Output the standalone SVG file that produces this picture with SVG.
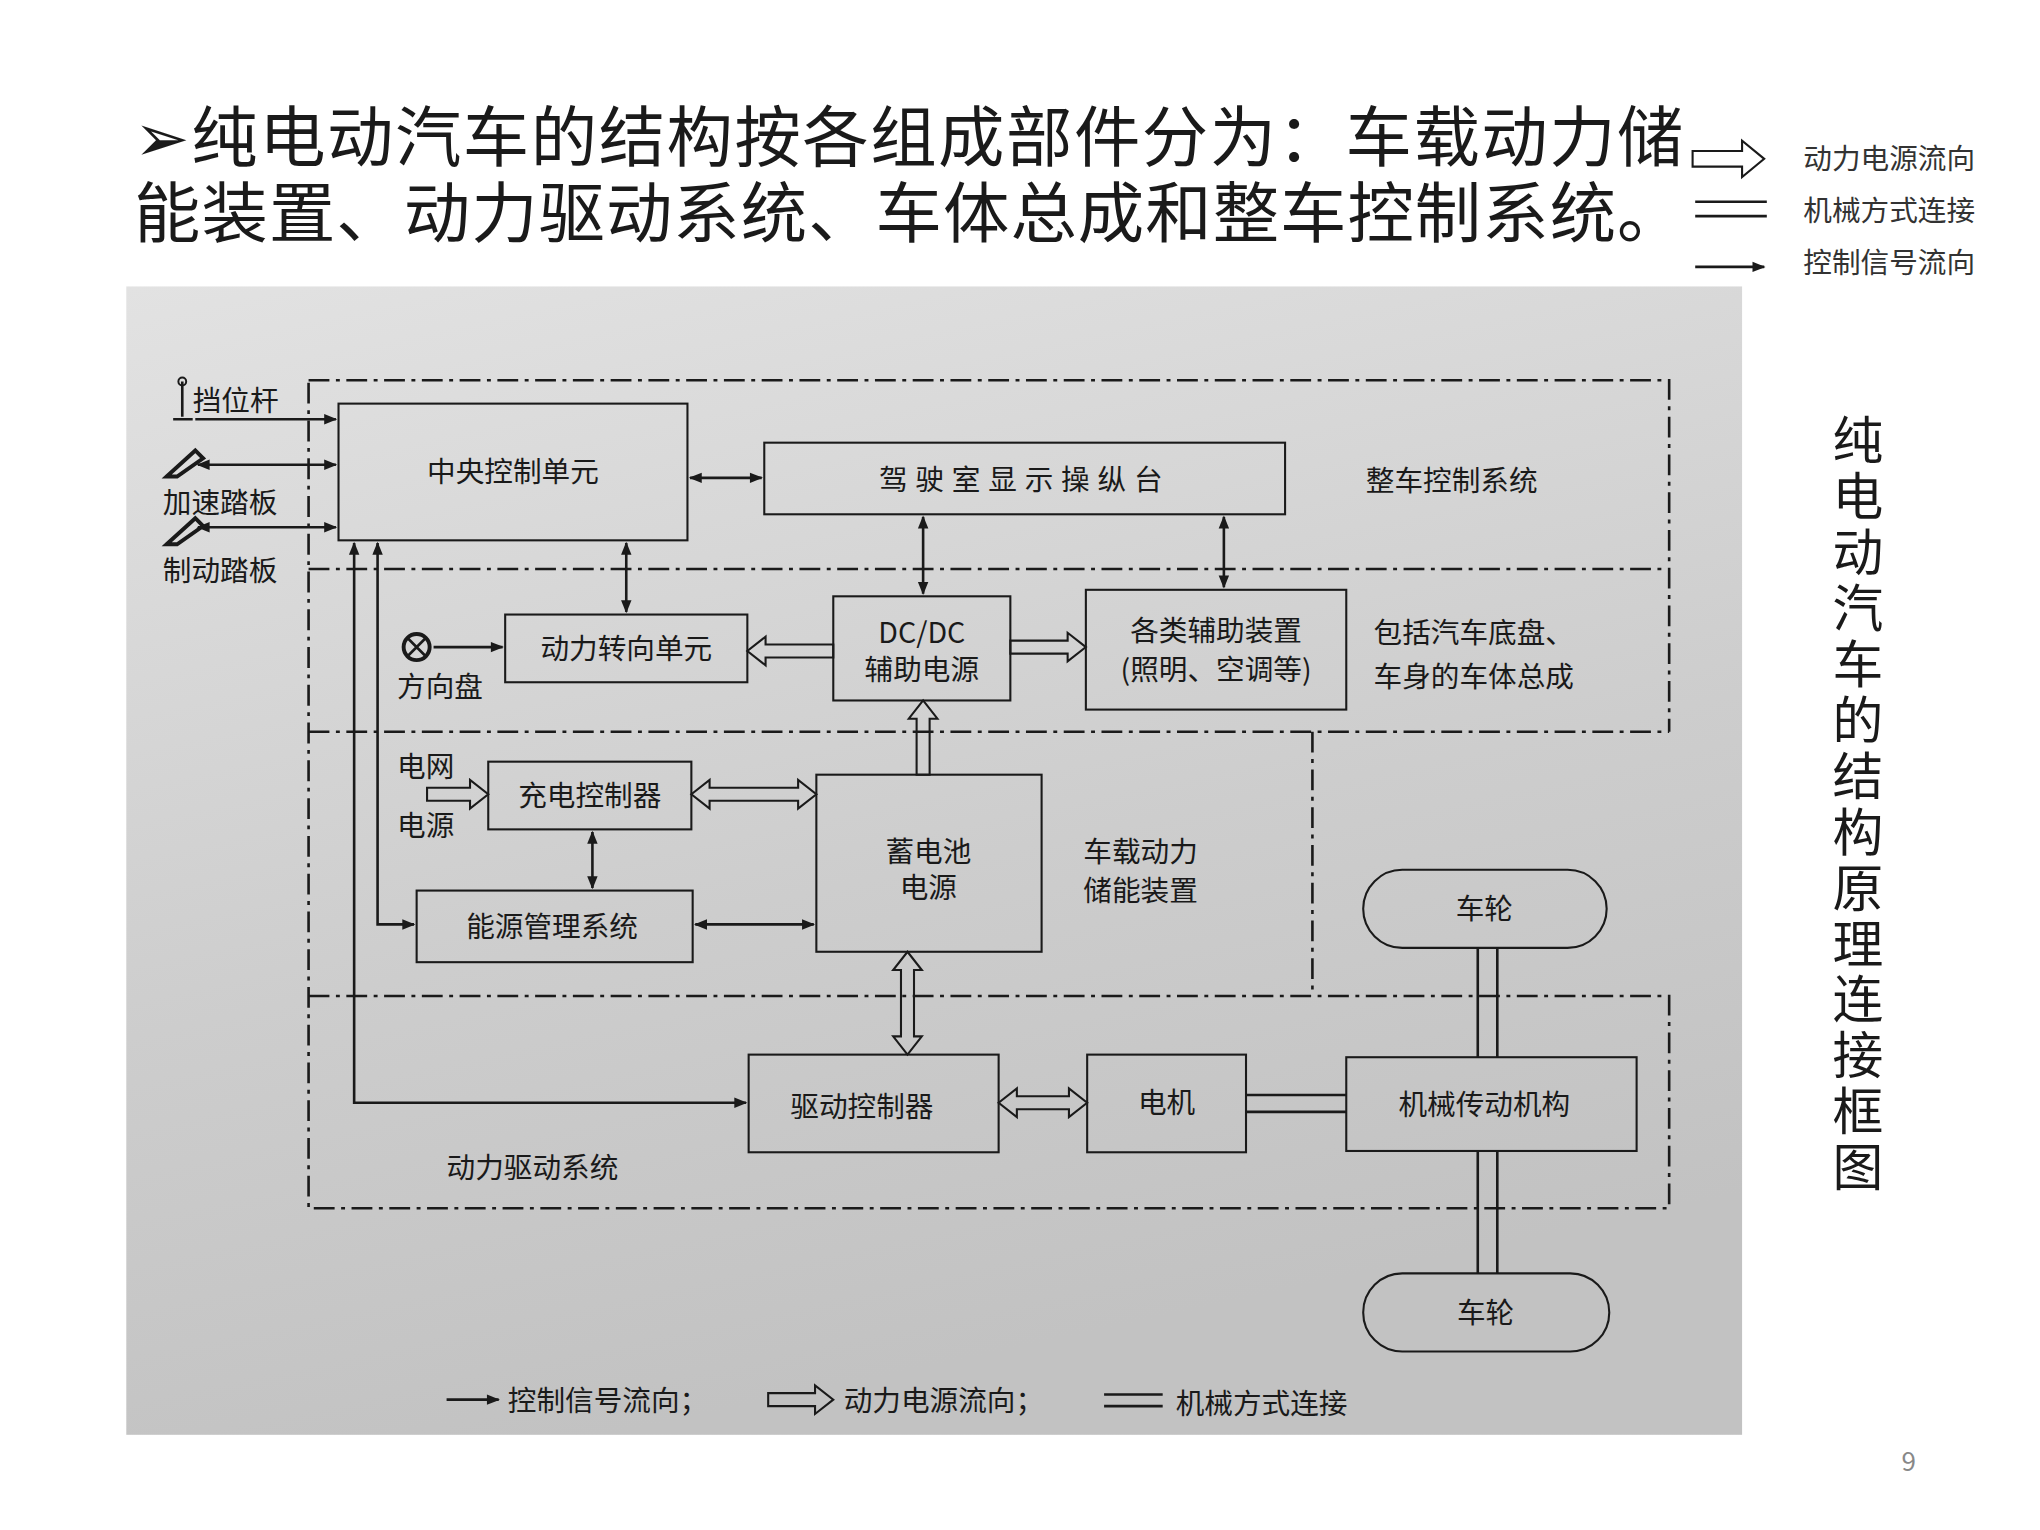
<svg xmlns="http://www.w3.org/2000/svg" width="2040" height="1530" viewBox="0 0 2040 1530">
<defs>
<linearGradient id="bg" x1="0" y1="0" x2="0.3" y2="1"><stop offset="0" stop-color="#e2e2e2"/><stop offset="0.6" stop-color="#cdcdcd"/><stop offset="1" stop-color="#c2c2c2"/></linearGradient>
<marker id="ah" viewBox="0 0 10 10" refX="9" refY="5" markerWidth="12" markerHeight="10" markerUnits="userSpaceOnUse" orient="auto-start-reverse"><path d="M0,1 L10,5 L0,9 Z" fill="#1a1a1a"/></marker>
</defs>
<style>
text{font-family:"Noto Sans CJK SC","DejaVu Sans",sans-serif;fill:#1a1a1a}
.t{font-size:22px}
.c{text-anchor:middle}
.box{fill:none;stroke:#1a1a1a;stroke-width:1.6}
.dd{fill:none;stroke:#1a1a1a;stroke-width:2;stroke-dasharray:16 5 3 5}
.ln{fill:none;stroke:#1a1a1a;stroke-width:2}
.ar{fill:none;stroke:#1a1a1a;stroke-width:2;marker-end:url(#ah)}
.ar2{fill:none;stroke:#1a1a1a;stroke-width:2;marker-end:url(#ah);marker-start:url(#ah)}
.ho{fill:none;stroke:#1a1a1a;stroke-width:1.6;stroke-linejoin:miter}
.lg{font-size:22px;fill:#333}
</style>
<rect width="2040" height="1530" fill="#fff"/>
<g transform="scale(1.302)">
<text x="103" y="124" style="font-size:51px" textLength="1190">➢纯电动汽车的结构按各组成部件分为：车载动力储</text>
<text x="103" y="182" style="font-size:51px" textLength="1190">能装置、动力驱动系统、车体总成和整车控制系统。</text>
<g id="legend-top">
<path class="ho" d="M1300,116 L1338,116 L1338,108 L1355,122 L1338,136 L1338,128 L1300,128 Z"/>
<text class="lg" x="1385" y="130">动力电源流向</text>
<path class="ln" d="M1302,155 H1357 M1302,166 H1357"/>
<text class="lg" x="1385" y="170">机械方式连接</text>
<path class="ar" d="M1302,205 H1355"/>
<text class="lg" x="1385" y="210">控制信号流向</text>
</g>
<rect x="97" y="220" width="1241" height="882" fill="url(#bg)"/>
<g id="regions">
<path class="dd" d="M237,292 H1282 V562 M237,437 H1282 M237,562 H1282 M1008,562 V765 M237,765 H1282 V928 H237 V292"/>
</g>
<g id="n-central"><rect class="box" x="260" y="310" width="268" height="105"/><text class="t c" x="394" y="370">中央控制单元</text></g>
<g id="n-dash"><rect class="box" x="587" y="340" width="400" height="55"/><text class="t c" x="787" y="376" style="letter-spacing:6px">驾驶室显示操纵台</text></g>
<text class="t c" x="1115" y="377">整车控制系统</text>
<g id="n-steer"><rect class="box" x="388" y="472" width="186" height="52"/><text class="t c" x="481" y="506">动力转向单元</text></g>
<g id="n-dcdc"><rect class="box" x="640" y="458" width="136" height="80"/><text class="t c" x="708" y="494">DC/DC</text><text class="t c" x="708" y="522">辅助电源</text></g>
<g id="n-aux"><rect class="box" x="834" y="453" width="200" height="92"/><text class="t c" x="934" y="492">各类辅助装置</text><text class="t c" x="934" y="522">(照明、空调等)</text></g>
<text class="t" x="1055" y="494">包括汽车底盘、</text>
<text class="t" x="1055" y="528">车身的车体总成</text>
<g id="wheel-icon"><circle cx="320" cy="497" r="10" fill="none" stroke="#1a1a1a" stroke-width="3"/><path class="ln" d="M313,490 L327,504 M327,490 L313,504"/></g>
<text class="t" x="305" y="535">方向盘</text>
<text class="t" x="305" y="597">电网</text>
<text class="t" x="305" y="642">电源</text>
<g id="n-charge"><rect class="box" x="375" y="585" width="156" height="52"/><text class="t c" x="453" y="619">充电控制器</text></g>
<g id="n-energy"><rect class="box" x="320" y="684" width="212" height="55"/><text class="t c" x="424" y="720">能源管理系统</text></g>
<g id="n-battery"><rect class="box" x="627" y="595" width="173" height="136"/><text class="t c" x="713" y="662">蓄电池</text><text class="t c" x="713" y="690">电源</text></g>
<text class="t" x="832" y="662">车载动力</text>
<text class="t" x="832" y="692">储能装置</text>
<g id="n-wheel1"><rect class="box" x="1047" y="668" width="187" height="60" rx="30"/><text class="t c" x="1140" y="706">车轮</text></g>
<g id="n-drivectl"><rect class="box" x="575" y="810" width="192" height="75"/><text class="t c" x="662" y="858">驱动控制器</text></g>
<g id="n-motor"><rect class="box" x="835" y="810" width="122" height="75"/><text class="t c" x="896" y="855">电机</text></g>
<g id="n-mech"><rect class="box" x="1034" y="812" width="223" height="72"/><text class="t c" x="1140" y="856">机械传动机构</text></g>
<g id="n-wheel2"><rect class="box" x="1047" y="978" width="189" height="60" rx="30"/><text class="t c" x="1141" y="1016">车轮</text></g>
<text class="t" x="343" y="905">动力驱动系统</text>
<g id="lever-icon"><path class="ln" d="M140,293 V320 M133,322 H148"/><circle cx="140" cy="293" r="3" fill="none" stroke="#1a1a1a" stroke-width="1.5"/></g>
<text class="t" x="148" y="316">挡位杆</text>
<path d="M128,366 L150,346 L156,352 L136,366 Z" fill="none" stroke="#1a1a1a" stroke-width="3"/>
<text class="t" x="125" y="394">加速踏板</text>
<path d="M128,418 L150,398 L156,404 L136,418 Z" fill="none" stroke="#1a1a1a" stroke-width="3"/>
<text class="t" x="125" y="446">制动踏板</text>
<g id="connectors">
<path class="ar" d="M150,322 H258"/>
<path class="ar2" d="M152,357 H258"/>
<path class="ar2" d="M152,405 H258"/>
<path class="ar2" d="M530,367 H585"/>
<path class="ar2" d="M481,417 V470"/>
<path class="ar2" d="M709,397 V456"/>
<path class="ar2" d="M940,397 V451"/>
<path class="ar" d="M333,497 H386"/>
<path class="ar2" d="M455,639 V682"/>
<path class="ar2" d="M534,710 H625"/>
<path class="ar2" d="M272,417 V847 H573"/>
<path class="ar2" d="M290,417 V710 H318"/>
<path class="ho" d="M640,495 L588,495 L588,489 L574,500 L588,511 L588,505 L640,505 Z"/>
<path class="ho" d="M776,492 L820,492 L820,486 L834,497 L820,508 L820,502 L776,502 Z"/>
<path class="ho" d="M704,595 L704,552 L698,552 L709,538 L720,552 L714,552 L714,595 Z"/>
<path class="ho" d="M328,605 L361,605 L361,599 L375,610 L361,621 L361,615 L328,615 Z"/>
<path class="ho" d="M531,610 L545,599 L545,605 L613,605 L613,599 L627,610 L613,621 L613,615 L545,615 L545,621 Z"/>
<path class="ho" d="M697,731 L708,745 L702,745 L702,796 L708,796 L697,810 L686,796 L692,796 L692,745 L686,745 Z"/>
<path class="ho" d="M767,847 L781,836 L781,842 L821,842 L821,836 L835,847 L821,858 L821,852 L781,852 L781,858 Z"/>
<path class="ln" d="M957,841 H1034 M957,854 H1034"/>
<path class="ln" d="M1135,728 V812 M1150,728 V812 M1135,884 V978 M1150,884 V978"/>
</g>
<g id="legend-bottom">
<path class="ar" d="M343,1075 H383"/>
<text class="t" x="390" y="1084">控制信号流向；</text>
<path class="ho" d="M590,1070 L626,1070 L626,1064 L640,1075 L626,1086 L626,1080 L590,1080 Z"/>
<text class="t" x="648" y="1084">动力电源流向；</text>
<path class="ln" d="M848,1071 H893 M848,1080 H893"/>
<text class="t" x="903" y="1086">机械方式连接</text>
</g>
<text x="1427" y="318" style="font-size:39px;writing-mode:vertical-rl;letter-spacing:4px">纯电动汽车的结构原理连接框图</text>
<text x="1466" y="1130" class="c" style="font-size:20px;fill:#888">9</text>
</g>
</svg>
